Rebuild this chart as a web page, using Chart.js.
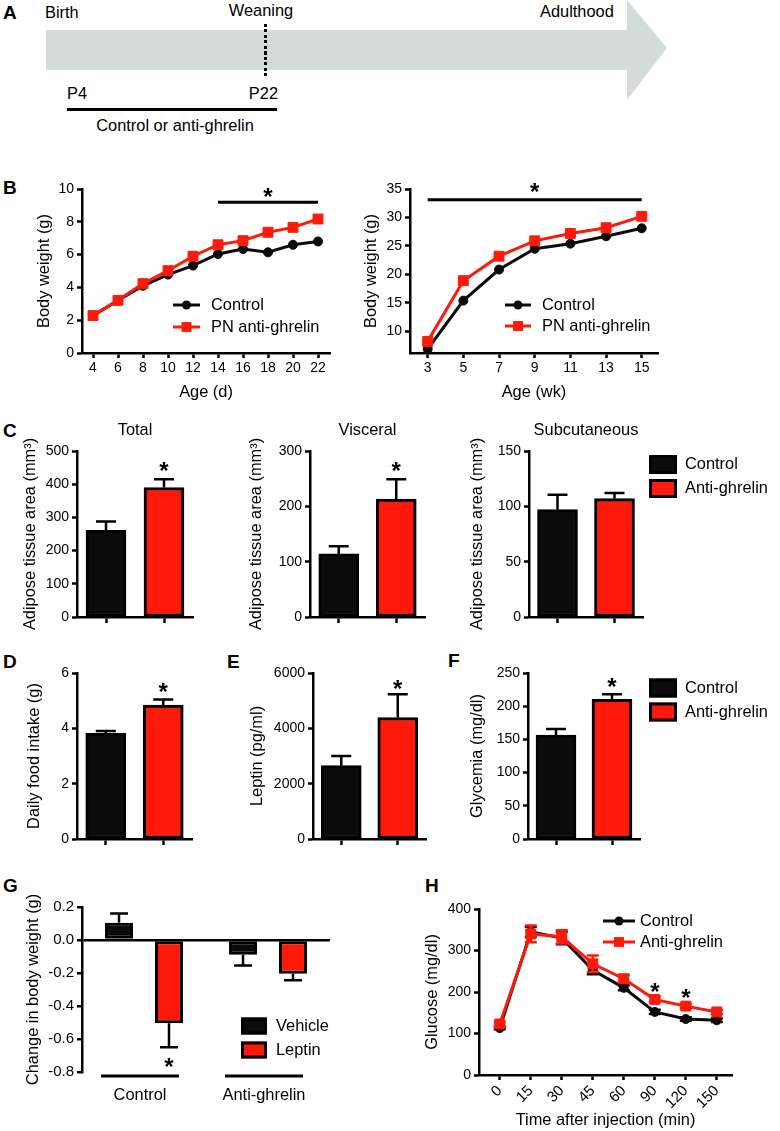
<!DOCTYPE html>
<html>
<head>
<meta charset="utf-8">
<script src="https://cdn.jsdelivr.net/npm/chart.js@4.4.1/dist/chart.umd.min.js"></script>
<style>
  body { margin: 0; background: #fff; }
  #fig { position: relative; width: 780px; height: 1131px; overflow: hidden;
         font-family: "Liberation Sans", Arial, Helvetica, sans-serif; color: #000; }
  #fig canvas { position: absolute; }
  .blk { position: absolute; }
  .t { position: absolute; font-size: 16.4px; line-height: 16.4px; white-space: nowrap; }
  .lt { position: absolute; font-size: 19px; line-height: 19px; font-weight: bold; }
</style>
</head>
<body>
<div id="fig">
  <!-- panel A: timeline diagram -->
  <div class="blk" style="left:46px;top:30px;width:581px;height:40px;background:#d4dcdb;"></div>
  <div class="blk" style="left:627px;top:0;width:40px;height:100px;background:#d4dcdb;clip-path:polygon(0 0,100% 48%,0 100%);"></div>
  <div class="blk" style="left:264px;top:24px;width:3px;height:52px;background:repeating-linear-gradient(to bottom,#000 0 3px,transparent 3px 5.5px);"></div>
  <div class="blk" style="left:67px;top:108px;width:210px;height:3px;background:#000;"></div>
  <div class="t" style="left:45px;top:4px;">Birth</div>
  <div class="t" style="left:261px;top:2px;transform:translateX(-50%);">Weaning</div>
  <div class="t" style="left:540px;top:3px;">Adulthood</div>
  <div class="t" style="left:67px;top:85px;">P4</div>
  <div class="t" style="left:278px;top:85px;transform:translateX(-100%);">P22</div>
  <div class="t" style="left:175px;top:117px;transform:translateX(-50%);">Control or anti-ghrelin</div>

  <div class="lt" style="left:3px;top:3px;">A</div>
  <div class="lt" style="left:3px;top:178px;">B</div>
  <div class="lt" style="left:3px;top:421px;">C</div>
  <div class="lt" style="left:3px;top:652px;">D</div>
  <div class="lt" style="left:227px;top:652px;">E</div>
  <div class="lt" style="left:448px;top:651px;">F</div>
  <div class="lt" style="left:3px;top:876px;">G</div>
  <div class="lt" style="left:425px;top:876px;">H</div>

  <canvas id="bDays"></canvas>
  <canvas id="bWeeks"></canvas>
  <canvas id="cTotal"></canvas>
  <canvas id="cVisc"></canvas>
  <canvas id="cSub"></canvas>
  <canvas id="dFood"></canvas>
  <canvas id="eLeptin"></canvas>
  <canvas id="fGly"></canvas>
  <canvas id="gLep"></canvas>
  <canvas id="hGtt"></canvas>
</div>

<script>
// ── Data ───────────────────────────────────────────────────────────────────
// B: body weight, postnatal days and weeks
const ageDays        = [4, 6, 8, 10, 12, 14, 16, 18, 20, 22];
const bwDaysControl  = [2.28, 3.21, 4.1, 4.78, 5.33, 6.04, 6.34, 6.14, 6.6, 6.8];
const bwDaysAnti     = [2.28, 3.21, 4.23, 5.02, 5.9, 6.6, 6.85, 7.36, 7.66, 8.17];
const bwDaysTicks    = [0, 2, 4, 6, 8, 10];
const ageWeeks       = [3, 5, 7, 9, 11, 13, 15];
const bwWeeksControl = [6.9, 15.4, 20.85, 24.5, 25.4, 26.7, 28.1];
const bwWeeksAnti    = [8.24, 18.9, 23.2, 25.9, 27.2, 28.2, 30.2];
const bwWeeksTicks   = [10, 15, 20, 25, 30, 35];

// C–F: two-group bar panels (mean, SEM)
const groupLabels  = ['Control', 'Anti-ghrelin'];
const totalArea    = [261, 390];    const totalSem    = [27, 25];
const visceralArea = [114, 213];    const visceralSem = [14, 36];
const subcutArea   = [97, 107];     const subcutSem   = [13.5, 5];
const foodIntake   = [3.82, 4.84];  const foodSem     = [0.08, 0.2];
const leptinLevel  = [2650, 4390];  const leptinSem   = [350, 840];
const glycemia     = [156.5, 210.5]; const glycemiaSem = [9, 7.5];

// G: change in body weight after leptin
const gGroups     = ['Control', 'Anti-ghrelin'];
const gVehicle    = [0.104, -0.09];  const gVehicleSem = [0.056, 0.064];
const gLeptin     = [-0.504, -0.204]; const gLeptinSem = [0.146, 0.04];
const gTicks      = [-0.8, -0.6, -0.4, -0.2, 0, 0.2];

// H: glucose tolerance test
const gttTimes      = ['0', '15', '30', '45', '60', '90', '120', '150'];
const gttControl    = [113, 345, 330, 253, 210, 152, 135, 132];
const gttControlSem = [3, 12, 15, 10, 6, 5, 4, 4];
const gttAnti       = [123, 340, 333, 268, 232, 182, 166, 152];
const gttAntiSem    = [5, 20, 16, 20, 9, 6, 5, 5];
const gttTicks      = [0, 100, 200, 300, 400];

// ── Styling ────────────────────────────────────────────────────────────────
const BLACK = '#0b0b0b';
const RED   = '#fe1a0a';
const FONT  = '"Liberation Sans", Arial, Helvetica, sans-serif';
const TITLE_SIZE = 16.4;

Chart.defaults.font.family = FONT;
Chart.defaults.font.size = 14;
Chart.defaults.color = '#000';
Chart.defaults.animation = false;
Chart.defaults.responsive = false;
Chart.defaults.plugins.legend.display = false;
Chart.defaults.plugins.tooltip.enabled = false;

// page geometry: canvas rect and plot-area rect, both in page pixels
const GEO = {
  bDays:   { rect: { l: 35,  t: 170, r: 345, b: 402 },  area: { l: 82,  t: 189, r: 330, b: 353 } },
  bWeeks:  { rect: { l: 362, t: 170, r: 672, b: 402 },  area: { l: 410, t: 189, r: 658, b: 353 } },
  cTotal:  { rect: { l: 21,  t: 415, r: 205, b: 634 },  area: { l: 77,  t: 451, r: 193, b: 617 } },
  cVisc:   { rect: { l: 247, t: 415, r: 440, b: 634 },  area: { l: 310, t: 451, r: 425, b: 617 } },
  cSub:    { rect: { l: 468, t: 415, r: 780, b: 634 },  area: { l: 529, t: 451, r: 643, b: 617 } },
  dFood:   { rect: { l: 25,  t: 650, r: 205, b: 852 },  area: { l: 77,  t: 673, r: 192, b: 839 } },
  eLeptin: { rect: { l: 248, t: 650, r: 440, b: 852 },  area: { l: 313, t: 673, r: 426, b: 839 } },
  fGly:    { rect: { l: 468, t: 650, r: 780, b: 852 },  area: { l: 528, t: 673, r: 640, b: 839 } },
  gLep:    { rect: { l: 24,  t: 895, r: 345, b: 1110 }, area: { l: 82,  t: 907, r: 330, b: 1072 } },
  hGtt:    { rect: { l: 423, t: 895, r: 760, b: 1130 }, area: { l: 479, t: 909, r: 732, b: 1075 } },
};

function drawStar(ctx, x, y) {
  ctx.font = 'bold 24px ' + FONT;
  ctx.textAlign = 'center';
  ctx.textBaseline = 'alphabetic';
  ctx.fillStyle = '#000';
  ctx.fillText('*', x, y + 13.5);
}

function drawMarker(ctx, style, r, x, y, color) {
  ctx.fillStyle = color;
  if (style === 'rect') {
    const s = r * Math.SQRT1_2;
    ctx.fillRect(x - s, y - s, 2 * s, 2 * s);
  } else {
    ctx.beginPath(); ctx.arc(x, y, r, 0, Math.PI * 2); ctx.fill();
  }
}

// error bars, significance marks, panel titles and legends
const extras = {
  id: 'extras',
  afterDatasetDraw(chart, args) {
    const ds = chart.data.datasets[args.index];
    if (!ds.sem) return;
    const ctx = chart.ctx, ys = chart.scales.y;
    ctx.save();
    ctx.strokeStyle = ds.errColor || '#000';
    ctx.lineWidth = 2.5;
    args.meta.data.forEach((el, i) => {
      const raw = ds.data[i];
      const v = typeof raw === 'object' ? raw.y : raw;
      const e = ds.sem[i];
      const x = el.x, half = ds.capHalf || 10;
      const ends = ds.errBoth ? [v + e, v - e] : [v >= 0 ? v + e : v - e];
      const from = ds.errBoth ? ys.getPixelForValue(v - e) : ys.getPixelForValue(v);
      const to = ys.getPixelForValue(ends[0]);
      ctx.beginPath();
      ctx.moveTo(x, from); ctx.lineTo(x, to);
      ends.forEach(ev => {
        const py = ys.getPixelForValue(ev);
        ctx.moveTo(x - half, py); ctx.lineTo(x + half, py);
      });
      ctx.stroke();
    });
    ctx.restore();
  },
  afterDraw(chart, args, o) {
    const ctx = chart.ctx, xs = chart.scales.x, ys = chart.scales.y, ca = chart.chartArea;
    ctx.save();
    if (o.sig) {
      const y = ys.getPixelForValue(o.sig.y);
      const x1 = xs.getPixelForValue(o.sig.from), x2 = xs.getPixelForValue(o.sig.to);
      ctx.strokeStyle = '#000'; ctx.lineWidth = 3;
      ctx.beginPath(); ctx.moveTo(x1, y); ctx.lineTo(x2, y); ctx.stroke();
      drawStar(ctx, (x1 + x2) / 2, ys.getPixelForValue(o.sig.starY));
    }
    (o.stars || []).forEach(s => {
      const px = s.ds !== undefined ? chart.getDatasetMeta(s.ds).data[s.i].x : xs.getPixelForValue(s.x);
      drawStar(ctx, px, ys.getPixelForValue(s.y));
    });
    if (o.groupLines) {
      ctx.strokeStyle = '#000'; ctx.lineWidth = 3;
      chart.data.labels.forEach((_, i) => {
        const cx = xs.getPixelForValue(i) + o.groupLines.dx;
        const y = ca.bottom + o.groupLines.dy;
        ctx.beginPath(); ctx.moveTo(cx - o.groupLines.half, y); ctx.lineTo(cx + o.groupLines.half, y); ctx.stroke();
      });
    }
    if (o.title) {
      ctx.font = TITLE_SIZE + 'px ' + FONT;
      ctx.fillStyle = '#000'; ctx.textAlign = 'center'; ctx.textBaseline = 'middle';
      ctx.fillText(o.title, (ca.left + ca.right) / 2, ca.top - 21);
    }
    if (o.legend) {
      const L = o.legend, org = o.origin;
      const items = L.items || chart.data.datasets.map(d => ({
        label: d.label, color: d.borderColor, style: d.pointStyle, r: d.pointRadius }));
      items.forEach((it, k) => {
        const cy = L.y + k * L.gap - org.t;
        const x0 = L.x - org.l;
        if (L.kind === 'box') {
          ctx.fillStyle = it.color;
          ctx.fillRect(x0, cy - L.h / 2, L.w, L.h);
          ctx.strokeStyle = '#000'; ctx.lineWidth = 3;
          ctx.strokeRect(x0 + 1.5, cy - L.h / 2 + 1.5, L.w - 3, L.h - 3);
        } else {
          ctx.strokeStyle = it.color; ctx.lineWidth = 3;
          ctx.beginPath(); ctx.moveTo(x0, cy); ctx.lineTo(x0 + L.len, cy); ctx.stroke();
          drawMarker(ctx, it.style, it.r, x0 + L.len / 2, cy, it.color);
        }
        ctx.font = TITLE_SIZE + 'px ' + FONT;
        ctx.fillStyle = '#000'; ctx.textAlign = 'left'; ctx.textBaseline = 'middle';
        ctx.fillText(it.label, x0 + L.textDx, cy);
      });
    }
    ctx.restore();
  },
};
Chart.register(extras);

// ── Axis helpers ───────────────────────────────────────────────────────────
const tickGrid = { drawOnChartArea: false, drawTicks: true, tickLength: 5, tickWidth: 2.5, tickColor: '#000' };
const axisBorder = { display: true, color: '#000', width: 2.5 };

function yAxis(min, max, ticks, title, fmt, size) {
  return {
    type: 'linear', min, max,
    afterBuildTicks: s => { s.ticks = ticks.map(v => ({ value: v })); },
    ticks: { padding: 3, font: { size: size || 14 }, callback: fmt || (v => String(v)) },
    grid: { ...tickGrid },
    border: axisBorder,
    title: { display: true, text: title, font: { size: TITLE_SIZE }, padding: 0 },
  };
}

function xLinear(min, max, ticks, title, fmt, rot, size) {
  return {
    type: 'linear', min, max,
    afterBuildTicks: s => { s.ticks = ticks.map(v => ({ value: v })); },
    ticks: { padding: 2, autoSkip: false, minRotation: rot || 0, maxRotation: rot || 0,
             font: { size: size || 14 }, callback: fmt || (v => String(v)) },
    grid: { ...tickGrid },
    border: axisBorder,
    title: { display: !!title, text: title, font: { size: TITLE_SIZE }, padding: 0 },
  };
}

function xBars() {
  return {
    type: 'category', offset: true,
    ticks: { display: false },
    grid: { ...tickGrid, offset: false, tickLength: 6 },
    border: axisBorder,
  };
}

function lineSet(label, xv, yv, color, style, r, order, sem) {
  return {
    label, order, sem,
    data: xv.map((x, i) => ({ x, y: yv[i] })),
    borderColor: color, backgroundColor: color, borderWidth: 3,
    pointStyle: style, pointRadius: r, pointBorderWidth: 1, pointBorderColor: color,
    tension: 0, clip: false, errBoth: true, errColor: color, capHalf: 6,
  };
}

// place canvas on the page and pin the plot area to the measured rectangle
function panel(id, cfg) {
  const { rect, area } = GEO[id];
  const cv = document.getElementById(id);
  cv.width = rect.r - rect.l;
  cv.height = rect.b - rect.t;
  cv.style.left = rect.l + 'px';
  cv.style.top = rect.t + 'px';
  const o = cfg.options;
  o.layout = { padding: { left: 0, top: area.t - rect.t, right: rect.r - area.r, bottom: 0 } };
  o.scales.y.afterFit = s => { s.width = area.l - rect.l; };
  o.scales.x.afterFit = s => { s.height = rect.b - area.b; };
  o.plugins = o.plugins || {};
  o.plugins.extras = Object.assign({ origin: rect }, o.plugins.extras || {});
  return new Chart(cv, cfg);
}

function barPanel(id, values, sem, max, ticks, yTitle, extra) {
  return panel(id, {
    type: 'bar',
    data: {
      labels: groupLabels,
      datasets: [{
        data: values, sem, capHalf: 10,
        backgroundColor: [BLACK, RED], borderColor: '#000', borderWidth: 3,
        borderSkipped: false, barThickness: 40,
      }],
    },
    options: {
      scales: { x: xBars(), y: yAxis(0, max, ticks, yTitle) },
      plugins: { extras: extra || {} },
    },
  });
}

const barLegendItems = groupLabels.map((label, i) => ({ label, color: [BLACK, RED][i] }));

// ── B ──────────────────────────────────────────────────────────────────────
panel('bDays', {
  type: 'line',
  data: { datasets: [
    lineSet('Control', ageDays, bwDaysControl, BLACK, 'circle', 4.5, 1),
    lineSet('PN anti-ghrelin', ageDays, bwDaysAnti, RED, 'rect', 7, 0),
  ] },
  options: {
    scales: { x: xLinear(3.12, 22.96, ageDays, 'Age (d)'), y: yAxis(0, 10, bwDaysTicks, 'Body weight (g)') },
    plugins: { extras: {
      sig: { from: 14, to: 22, y: 9.19, starY: 9.83 },
      legend: { kind: 'line', x: 173, y: 305, gap: 22, len: 27, textDx: 38 },
    } },
  },
});

panel('bWeeks', {
  type: 'line',
  data: { datasets: [
    lineSet('Control', ageWeeks, bwWeeksControl, BLACK, 'circle', 4.5, 1),
    lineSet('PN anti-ghrelin', ageWeeks, bwWeeksAnti, RED, 'rect', 7, 0),
  ] },
  options: {
    scales: { x: xLinear(2.01, 15.91, ageWeeks, 'Age (wk)'), y: yAxis(6.2, 35, bwWeeksTicks, 'Body weight (g)') },
    plugins: { extras: {
      sig: { from: 3, to: 15, y: 33.1, starY: 35.4 },
      legend: { kind: 'line', x: 505, y: 305, gap: 21, len: 26, textDx: 37 },
    } },
  },
});

// ── C ──────────────────────────────────────────────────────────────────────
const adiposeTitle = 'Adipose tissue area (mm\u00B3)';
barPanel('cTotal', totalArea, totalSem, 500, [0, 100, 200, 300, 400, 500], adiposeTitle,
  { title: 'Total', stars: [{ ds: 0, i: 1, y: 455 }] });
barPanel('cVisc', visceralArea, visceralSem, 300, [0, 100, 200, 300], adiposeTitle,
  { title: 'Visceral', stars: [{ ds: 0, i: 1, y: 273 }] });
barPanel('cSub', subcutArea, subcutSem, 150, [0, 50, 100, 150], adiposeTitle,
  { title: 'Subcutaneous',
    legend: { kind: 'box', items: barLegendItems, x: 649, y: 464.5, gap: 24, w: 28, h: 19, textDx: 36 } });

// ── D, E, F ────────────────────────────────────────────────────────────────
barPanel('dFood', foodIntake, foodSem, 6, [0, 2, 4, 6], 'Daily food intake (g)',
  { stars: [{ ds: 0, i: 1, y: 5.5 }] });
barPanel('eLeptin', leptinLevel, leptinSem, 6000, [0, 2000, 4000, 6000], 'Leptin (pg/ml)',
  { stars: [{ ds: 0, i: 1, y: 5627 }] });
barPanel('fGly', glycemia, glycemiaSem, 250, [0, 50, 100, 150, 200, 250], 'Glycemia (mg/dl)',
  { stars: [{ ds: 0, i: 1, y: 236.5 }],
    legend: { kind: 'box', items: barLegendItems, x: 649, y: 688, gap: 24, w: 28, h: 19, textDx: 36 } });

// ── G ──────────────────────────────────────────────────────────────────────
const gBar = { borderColor: '#000', borderWidth: 3, borderSkipped: false,
               categoryPercentage: 0.806, barPercentage: 0.56, capHalf: 9 };
panel('gLep', {
  type: 'bar',
  data: {
    labels: gGroups,
    datasets: [
      { label: 'Vehicle', data: gVehicle, sem: gVehicleSem, backgroundColor: BLACK, ...gBar },
      { label: 'Leptin', data: gLeptin, sem: gLeptinSem, backgroundColor: RED, ...gBar },
    ],
  },
  options: {
    scales: {
      x: { type: 'category', offset: true, grid: { display: false }, border: { display: false },
           ticks: { padding: 6, labelOffset: -4, font: { size: TITLE_SIZE } } },
      y: Object.assign(yAxis(-0.8, 0.2, gTicks, 'Change in body weight (g)', v => v.toFixed(1), 15), {
        grid: { drawOnChartArea: true, drawTicks: true, tickLength: 5, tickWidth: 2.5, tickColor: '#000',
                lineWidth: 2.5, color: c => (c.tick && Math.abs(c.tick.value) < 1e-9 ? '#000' : 'rgba(0,0,0,0)') },
      }),
    },
    plugins: { extras: {
      stars: [{ ds: 1, i: 0, y: -0.734 }],
      groupLines: { half: 39, dx: -4, dy: 4 },
      legend: { kind: 'box', items: [{ label: 'Vehicle', color: BLACK }, { label: 'Leptin', color: RED }],
                x: 241, y: 1026, gap: 24, w: 26, h: 17, textDx: 35 },
    } },
  },
});

// ── H ──────────────────────────────────────────────────────────────────────
const gttIdx = gttTimes.map((_, i) => i);
panel('hGtt', {
  type: 'line',
  data: { datasets: [
    lineSet('Control', gttIdx, gttControl, BLACK, 'circle', 4.5, 1, gttControlSem),
    lineSet('Anti-ghrelin', gttIdx, gttAnti, RED, 'rect', 7, 0, gttAntiSem),
  ] },
  options: {
    scales: {
      x: xLinear(-0.67, 7.49, gttIdx, 'Time after injection (min)', v => gttTimes[v], 45, 15),
      y: yAxis(0, 400, gttTicks, 'Glucose (mg/dl)'),
    },
    plugins: { extras: {
      stars: [{ x: 5, y: 214 }, { x: 6, y: 200 }],
      legend: { kind: 'line', x: 603, y: 921, gap: 21, len: 32, textDx: 37 },
    } },
  },
});
</script>
</body>
</html>
